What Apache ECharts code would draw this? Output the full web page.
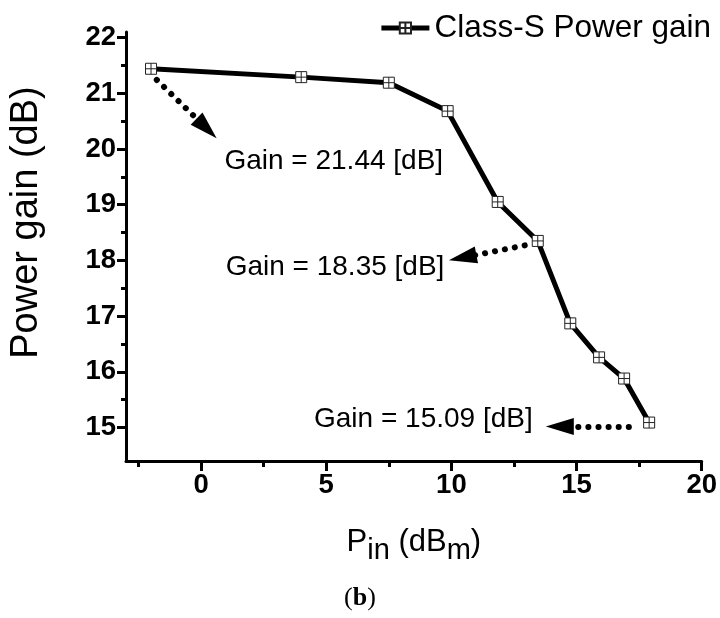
<!DOCTYPE html>
<html>
<head>
<meta charset="utf-8">
<script src="https://cdn.jsdelivr.net/npm/echarts@6/dist/echarts.min.js"></script>
<style>
  html, body { margin: 0; padding: 0; background: #fff; }
  #chart { width: 720px; height: 618px; }
</style>
</head>
<body>
<div id="chart"></div>
<script>
    // input power (dBm) and gain (dB)
    let pin = [-2, 4, 7.5, 9.85, 11.85, 13.45, 14.75, 15.9, 16.9, 17.9];
    let gain = [21.44, 21.29, 21.19, 20.68, 19.05, 18.35, 16.87, 16.26, 15.88, 15.09];

    // ticks
    let xMajor = [0, 5, 10, 15, 20];
    let xMinor = [-2.5, 2.5, 7.5, 12.5, 17.5];
    let yMajor = [15, 16, 17, 18, 19, 20, 21, 22];
    let yMinor = [15.5, 16.5, 17.5, 18.5, 19.5, 20.5, 21.5];

    // annotations: arrow from -> to, text at
    let arrowFrom = [[-1.77, 21.24], [12.93, 18.27], [17.09, 15.02]];
    let arrowTo = [[0.22, 20.37], [10.45, 18.05], [14.33, 15.02]];
    let noteText = ["Gain = 21.44 [dB]", "Gain = 18.35 [dB]", "Gain = 15.09 [dB]"];
    let notePos = [[5.3, 19.78], [5.35, 17.87], [8.88, 15.15]];

    let font = "'Liberation Sans', Arial, sans-serif";

    let pts = [];
    for (let i = 0; i < pin.length; i++) {
        pts.push([pin[i], gain[i]]);
    }
    let arrows = [];
    for (let i = 0; i < arrowFrom.length; i++) {
        arrows.push([{coord: arrowFrom[i]}, {coord: arrowTo[i]}]);
    }
    let notes = [];
    for (let i = 0; i < noteText.length; i++) {
        notes.push({coord: notePos[i], value: noteText[i]});
    }

    let myChart = echarts.init(document.getElementById('chart'));
    let option = {
        animation: false,
        grid: {left: 118, right: 18, top: 32, bottom: 157},
        legend: {
            data: ['Class-S Power gain'],
            right: 4,
            top: 7,
            itemWidth: 48,
            itemHeight: 14,
            itemGap: 8,
            lineStyle: {width: 5, color: '#000'},
            textStyle: {fontSize: 31.5, color: '#000', fontFamily: font}
        },
        xAxis: [{
            type: 'value',
            min: -3,
            max: 20,
            splitLine: {show: false},
            axisLine: {onZero: false, lineStyle: {color: '#000', width: 3}},
            axisTick: {customValues: xMajor, length: 10, lineStyle: {color: '#000', width: 3}},
            axisLabel: {customValues: xMajor, fontSize: 27.5, fontWeight: 'bold', color: '#000', fontFamily: font, margin: 10},
            name: '{n|P}{s|in}{n| (dB}{s|m}{n|)}',
            nameLocation: 'middle',
            nameGap: 59,
            nameTextStyle: {
                rich: {
                    n: {fontSize: 31, color: '#000', fontFamily: font},
                    s: {fontSize: 29, color: '#000', fontFamily: font, padding: [16, 0, 0, 0]}
                }
            }
        }, {
            type: 'value',
            min: -3,
            max: 20,
            position: 'bottom',
            splitLine: {show: false},
            axisLine: {show: false},
            axisTick: {customValues: xMinor, length: 6, lineStyle: {color: '#000', width: 3}},
            axisLabel: {show: false}
        }],
        yAxis: [{
            type: 'value',
            min: 14.4,
            max: 22.1,
            splitLine: {show: false},
            axisLine: {onZero: false, lineStyle: {color: '#000', width: 3}},
            axisTick: {customValues: yMajor, length: 9, lineStyle: {color: '#000', width: 3}},
            axisLabel: {customValues: yMajor, fontSize: 27.5, fontWeight: 'bold', color: '#000', fontFamily: font, margin: 10},
            name: 'Power gain (dB)',
            nameLocation: 'middle',
            nameGap: 80,
            nameTextStyle: {fontSize: 38, color: '#000', fontFamily: font, padding: [0, 0, 0, 48]}
        }, {
            type: 'value',
            min: 14.4,
            max: 22.1,
            position: 'left',
            splitLine: {show: false},
            axisLine: {show: false, onZero: false},
            axisTick: {customValues: yMinor, length: 5, lineStyle: {color: '#000', width: 3}},
            axisLabel: {show: false}
        }],
        series: [{
            name: 'Class-S Power gain',
            type: 'line',
            data: pts,
            symbol: 'path://M0,0 H10 V10 H0 Z M5,0 V10 M0,5 H10',
            symbolSize: 11,
            itemStyle: {color: '#fff', borderColor: '#222', borderWidth: 1},
            lineStyle: {color: '#000', width: 5},
            z: 3,
            markLine: {
                silent: true,
                symbol: ['none', 'triangle'],
                symbolSize: [17, 28],
                label: {show: false},
                lineStyle: {color: '#000', width: 6, type: [0.1, 10], cap: 'round'},
                itemStyle: {color: '#000'},
                data: arrows
            },
            markPoint: {
                silent: true,
                symbol: 'rect',
                symbolSize: 0,
                label: {
                    show: true,
                    position: 'inside',
                    formatter: function (p) { return p.value; },
                    fontSize: 28,
                    color: '#000',
                    fontFamily: font
                },
                data: notes
            }
        }],
        graphic: [{
            type: 'text',
            left: 'center',
            top: 585,
            style: {
                text: '({b|b})',
                font: "26px 'Liberation Serif', serif",
                fill: '#000',
                rich: {b: {fontWeight: 'bold', fontSize: 26, fontFamily: "'Liberation Serif', serif"}}
            }
        }]
    };
    myChart.setOption(option);
</script>
</body>
</html>
